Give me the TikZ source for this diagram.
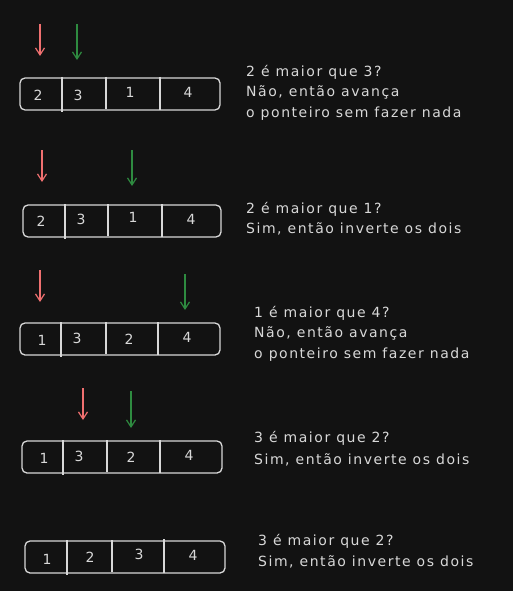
\documentclass[tikz,border=0pt]{standalone}
\usepackage{fontspec}
\setmainfont[LetterSpace=11]{DejaVu Sans}
\usepackage{tikz}
\usetikzlibrary{arrows.meta}
\definecolor{fundo}{HTML}{121212}
\definecolor{traco}{HTML}{D8D8D8}
\definecolor{ponteiroi}{HTML}{F07070}
\definecolor{ponteiroj}{HTML}{2E8B40}

\begin{document}
\begin{tikzpicture}[x=1pt, y=-1pt,
    vetor/.style={draw=traco, line width=1.3pt, rounded corners=5pt},
    divisor/.style={draw=traco, line width=1.1pt},
    celula/.style={text=traco, font=\fontsize{14}{16}\selectfont, inner sep=0pt},
    nota/.style={text=traco, font=\fontsize{14}{20.5}\selectfont, align=left, anchor=north west, inner sep=0pt},
    seta/.style={line width=1.2pt, -{Straight Barb[length=7pt, width=9pt]}}]
    \fill[fundo] (0,0) rectangle (513,591);
    \useasboundingbox (0,0) rectangle (513,591);

    % 2 3 1 4
    \draw[vetor] (20,78) rectangle (220,110);
    \draw[divisor] (62,77) -- (62,112);
    \draw[divisor] (106,77) -- (106,109);
    \draw[divisor] (160,77) -- (160,110);
    \node[celula] (a1) at (38,95) {2};
    \node[celula] (a2) at (78,95) {3};
    \node[celula] (a3) at (130,92) {1};
    \node[celula] (a4) at (188,92) {4};
    \coordinate (i1) at (40,24);  \coordinate (i1f) at (40,56);
    \coordinate (j1) at (77,24);  \coordinate (j1f) at (77,60);
    \draw[seta, ponteiroi] (i1) -- (i1f);
    \draw[seta, ponteiroj] (j1) -- (j1f);
    \node[nota] (n1) at (246,65) {2 é maior que 3?\\Não, então avança\\o ponteiro sem fazer nada};

    % 2 3 1 4 (de novo)
    \draw[vetor] (23,205) rectangle (221,237);
    \draw[divisor] (65,204) -- (65,239);
    \draw[divisor] (108,204) -- (108,236);
    \draw[divisor] (162,204) -- (162,237);
    \node[celula] (b1) at (41,221) {2};
    \node[celula] (b2) at (81,219) {3};
    \node[celula] (b3) at (133,217) {1};
    \node[celula] (b4) at (191,219) {4};
    \coordinate (i2) at (42,150);  \coordinate (i2f) at (42,182);
    \coordinate (j2) at (132,150); \coordinate (j2f) at (132,186);
    \draw[seta, ponteiroi] (i2) -- (i2f);
    \draw[seta, ponteiroj] (j2) -- (j2f);
    \node[nota] (n2) at (246,202) {2 é maior que 1?\\Sim, então inverte os dois};

    % 1 3 2 4
    \draw[vetor] (20,323) rectangle (220,355);
    \draw[divisor] (61,322) -- (61,357);
    \draw[divisor] (106,322) -- (106,354);
    \draw[divisor] (158,322) -- (158,355);
    \node[celula] (c1) at (42,340) {1};
    \node[celula] (c2) at (77,338) {3};
    \node[celula] (c3) at (129,339) {2};
    \node[celula] (c4) at (187,337) {4};
    \coordinate (i3) at (40,270);  \coordinate (i3f) at (40,302);
    \coordinate (j3) at (185,274); \coordinate (j3f) at (185,310);
    \draw[seta, ponteiroi] (i3) -- (i3f);
    \draw[seta, ponteiroj] (j3) -- (j3f);
    \node[nota] (n3) at (254,306) {1 é maior que 4?\\Não, então avança\\o ponteiro sem fazer nada};

    % 1 3 2 4 (de novo)
    \draw[vetor] (22,441) rectangle (222,473);
    \draw[divisor] (63,440) -- (63,475);
    \draw[divisor] (107,440) -- (107,472);
    \draw[divisor] (160,440) -- (160,473);
    \node[celula] (d1) at (44,458) {1};
    \node[celula] (d2) at (79,456) {3};
    \node[celula] (d3) at (131,457) {2};
    \node[celula] (d4) at (189,455) {4};
    \coordinate (i4) at (83,388);  \coordinate (i4f) at (83,420);
    \coordinate (j4) at (131,391); \coordinate (j4f) at (131,428);
    \draw[seta, ponteiroi] (i4) -- (i4f);
    \draw[seta, ponteiroj] (j4) -- (j4f);
    \node[nota, font=\fontsize{14}{22.5}\selectfont] (n4) at (254,431) {3 é maior que 2?\\Sim, então inverte os dois};

    % 1 2 3 4
    \draw[vetor] (25,541) rectangle (225,573);
    \draw[divisor] (67,540) -- (67,575);
    \draw[divisor] (112,540) -- (112,572);
    \draw[divisor] (164,539) -- (164,573);
    \node[celula] (e1) at (47,559) {1};
    \node[celula] (e2) at (90,557) {2};
    \node[celula] (e3) at (139,554) {3};
    \node[celula] (e4) at (193,555) {4};
    \node[nota, font=\fontsize{14}{21.5}\selectfont] (n5) at (258,534) {3 é maior que 2?\\Sim, então inverte os dois};
\end{tikzpicture}
\end{document}
